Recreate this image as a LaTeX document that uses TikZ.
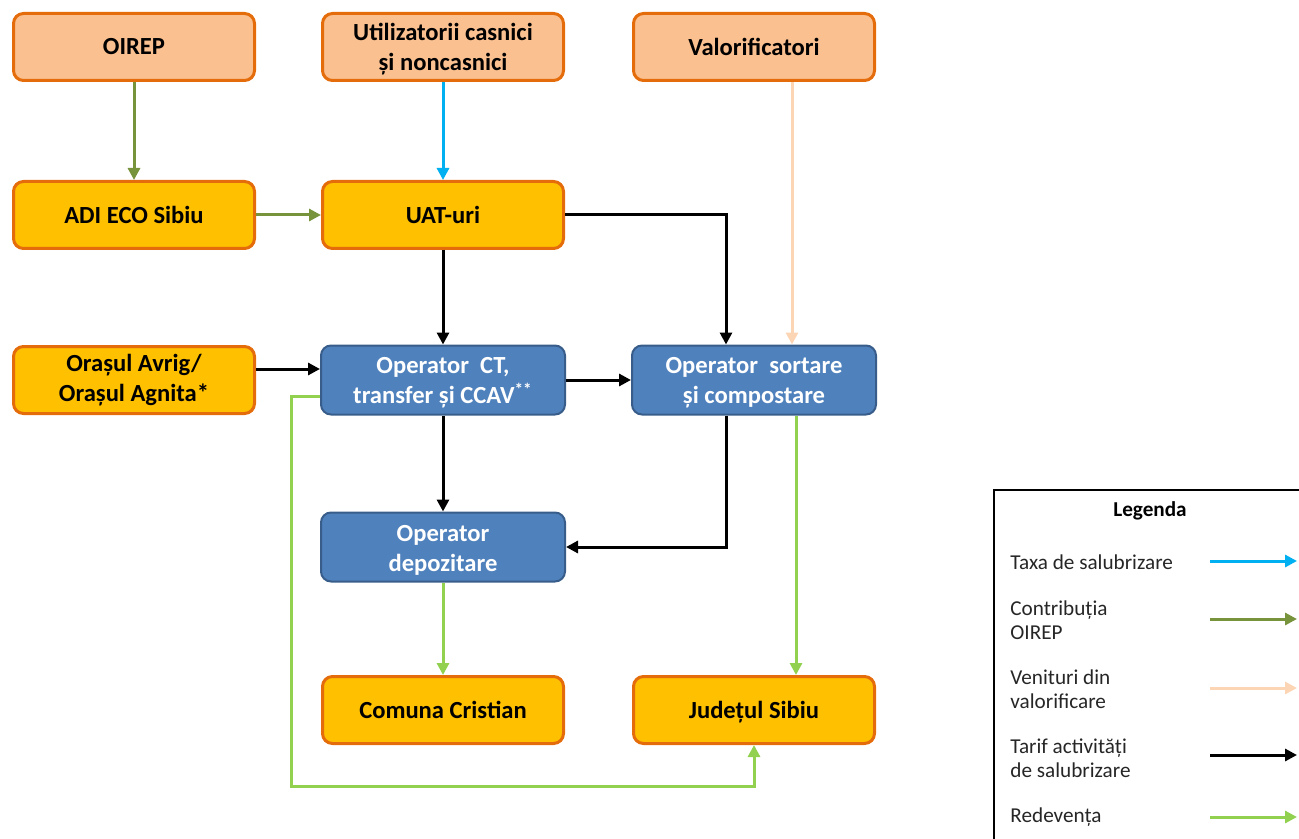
\documentclass[tikz,border=0pt]{standalone}
\usepackage{fontspec}
\setmainfont{Carlito}
\usetikzlibrary{arrows.meta,calc}
\definecolor{obord}{HTML}{E46C0A}
\definecolor{peachfill}{HTML}{FAC090}
\definecolor{goldfill}{HTML}{FFC000}
\definecolor{bluefill}{HTML}{4F81BD}
\definecolor{bluebord}{HTML}{385D8A}
\definecolor{ctaxa}{HTML}{00B0F0}
\definecolor{coirep}{HTML}{77933C}
\definecolor{cval}{HTML}{FCD5B5}
\definecolor{cred}{HTML}{92D050}
\newcommand{\lowertext}[2]{\raisebox{#1}[\height][\depth]{\parbox{118pt}{\centering #2}}}
\begin{document}
\begin{tikzpicture}[x=0.5pt,y=-0.5pt,
  box/.style={rounded corners=5pt, line width=1.5pt, draw=obord, minimum width=120.5pt, minimum height=33.5pt, align=center, inner sep=0pt, font=\bfseries\fontsize{12.3}{15}\selectfont},
  pbox/.style={box, fill=peachfill},
  gbox/.style={box, fill=goldfill},
  bbox/.style={box, fill=bluefill, draw=bluebord, line width=1pt, minimum width=122pt, minimum height=34.5pt, text=white},
  arr/.style={line width=1.5pt, -{Triangle[length=6pt,width=6pt]}},
  ltext/.style={anchor=west, inner sep=0pt, align=left, text=black!85, font=\fontsize{10.6}{12}\selectfont}
]
\useasboundingbox (0,0) rectangle (1299,839);
% nodes
\node[pbox] (oirep) at (134,47) {OIREP};
\node[pbox] (util) at (443,47) {\lowertext{-1.2pt}{Utilizatorii casnici\\și noncasnici}};
\node[pbox] (valor) at (754,47) {Valorificatori};
\node[gbox] (adi) at (134,215) {ADI ECO Sibiu};
\node[gbox] (uat) at (443,215) {UAT-uri};
\node[gbox] (avrig) at (134,380) {Orașul Avrig/\\Orașul Agnita*};
\node[bbox] (opct) at (443,380) {\lowertext{-1.5pt}{Operator\ \ CT,\\transfer și CCAV\smash{\textsuperscript{**}}}};
\node[bbox] (sort) at (754,380) {\lowertext{-1.5pt}{Operator\ \ sortare\\și compostare}};
\node[bbox] (depo) at (443,547) {\lowertext{-1.5pt}{Operator\\depozitare}};
\node[gbox] (comuna) at (443,710) {Comuna Cristian};
\node[gbox] (judet) at (754,710) {\raisebox{0pt}[\height][0pt]{Județul Sibiu}};
% connectors
\draw[arr, coirep] (oirep) -- (adi);
\draw[arr, ctaxa] (util) -- (uat);
\draw[arr, coirep] (adi) -- (uat);
\draw[arr] (uat.east) -| ($(sort.north)+(-28,0)$);
\draw[arr] (uat) -- (opct);
\draw[arr, cval] ($(valor.south)+(38,0)$) -- ($(sort.north)+(38,0)$);
\draw[arr] ($(avrig.east)+(0,-11)$) -- ($(opct.west)+(0,-11)$);
\draw[arr] (opct) -- (sort);
\draw[arr] (opct) -- (depo);
\draw[arr] ($(sort.south)+(-28,0)$) |- (depo.east);
\draw[arr, cred] ($(sort.south)+(42,0)$) -- ($(judet.north)+(42,0)$);
\draw[arr, cred] (depo) -- (comuna);
\coordinate (g1) at (291,786);
\draw[arr, cred] ($(opct.west)+(0,16)$) -| (g1) -| (judet.south);
% legend
\node[draw=black, line width=1pt, anchor=north west, minimum width=160pt, minimum height=180pt, inner sep=0pt] (legend) at (993,489) {};
\node[font=\bfseries\fontsize{10.6}{12}\selectfont] (ltitle) at (1150,511) {Legenda};
\node[ltext] (l1) at (1010,562) {Taxa de salubrizare};
\node[ltext] (l2) at (1010,620) {Contribuția\\OIREP};
\node[ltext] (l3) at (1010,689) {Venituri din\\valorificare};
\node[ltext] (l4) at (1010,758) {Tarif activități\\de salubrizare};
\node[ltext] (l5) at (1010,817) {Redevența};
\foreach \i/\y/\c in {1/561/ctaxa, 2/619/coirep, 3/688/cval, 4/755/black, 5/817/cred}{
  \coordinate (la\i) at (1210,\y);
  \coordinate (lb\i) at (1297,\y);
  \draw[arr, \c] (la\i) -- (lb\i);
}
\end{tikzpicture}
\end{document}
